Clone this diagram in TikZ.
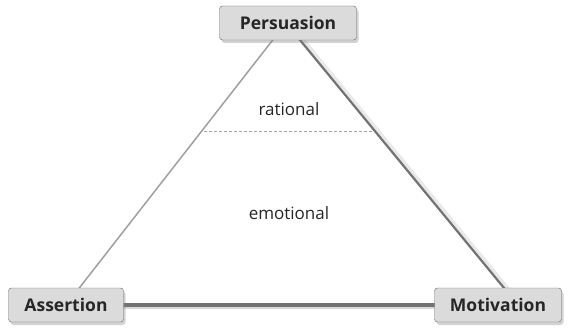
\documentclass[tikz,border=0pt]{standalone}
\usepackage{fontspec}
\setmainfont{Open Sans}
\usetikzlibrary{shadows}

\begin{document}
\begin{tikzpicture}[
  x=1pt, y=-1pt,
  corner/.style={draw=gray!80!black, rounded corners=3pt, fill=gray!28,
    font=\fontsize{17.5}{20}\selectfont\bfseries, text=black!85, inner sep=0pt,
    minimum height=34pt,
    drop shadow={shadow xshift=2pt, shadow yshift=-3pt, opacity=.35}},
  zone/.style={font=\fontsize{17}{20}\selectfont, text=black!85},
  side/.style={draw=gray!75, line width=1.5pt}
]
\useasboundingbox (0,0) rectangle (568,329);
% ends of the sides
\coordinate (lb) at (66,305);
\coordinate (rb) at (518,305);
\coordinate (tp) at (286,23);
\coordinate (dl) at (204,131);
\coordinate (dr) at (373,131);
% sides
\draw[side] (tp) -- (lb);
\draw[draw=gray!25, line width=5pt, opacity=.7] ([xshift=2.5pt]tp) -- ([xshift=2.5pt]rb);
\draw[side, draw=gray!90!black, line width=2.2pt] (tp) -- (rb);
\draw[draw=gray!30, line width=6.5pt] ([yshift=-1pt]lb) -- ([yshift=-1pt]rb);
\draw[draw=gray!90!black, line width=3.5pt] (lb) -- (rb);
\draw[gray!70, dashed, line width=.8pt, dash pattern=on 3pt off 2pt] (dl) -- (dr);
% labels
\node[zone] (rat) at (289,109) {rational};
\node[zone] (emo) at (289,213) {emotional};
\node[corner, minimum width=137pt] (pers) at (288,23) {Persuasion};
\node[corner, minimum width=115pt] (assert) at (66,305) {Assertion};
\node[corner, minimum width=127pt] (motiv) at (498,305) {Motivation};
\end{tikzpicture}
\end{document}
